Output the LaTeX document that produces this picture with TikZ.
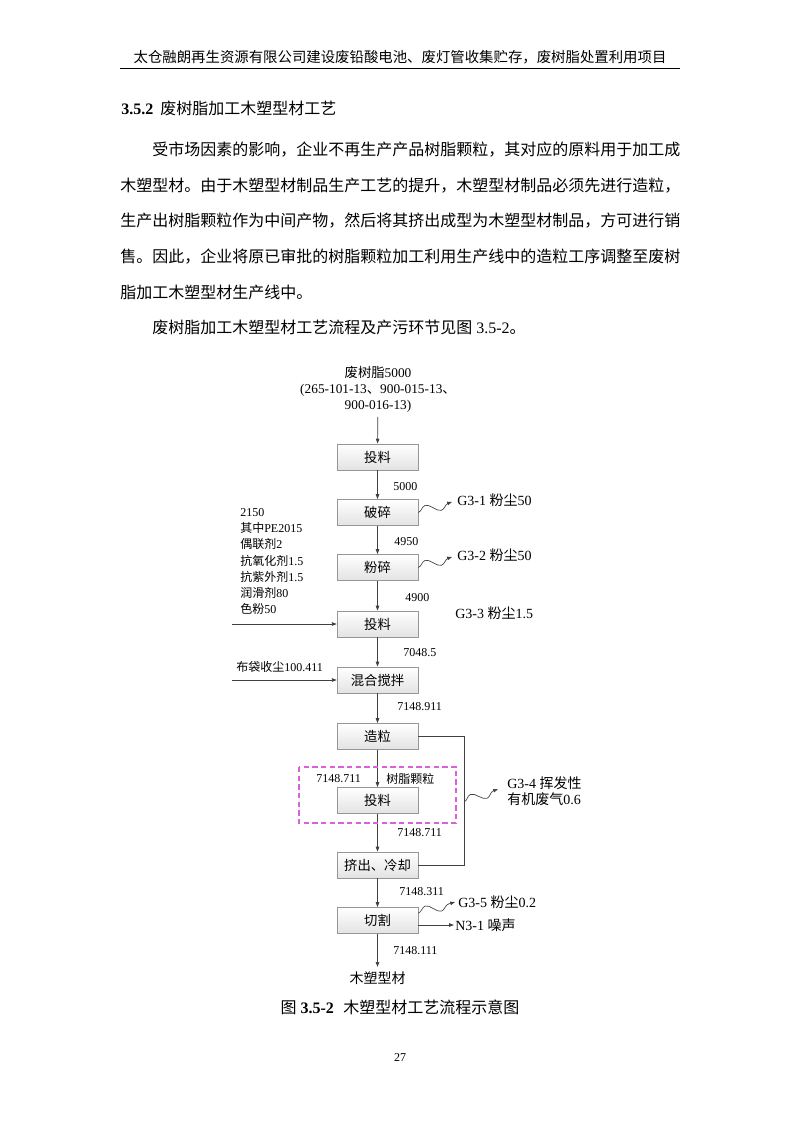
\documentclass[tikz,border=0pt]{standalone}
\usepackage{fontspec}
\setmainfont{Liberation Serif}
\newfontfamily\cjk{Noto Sans CJK SC}
\newcommand{\zh}[1]{{\cjk #1}}
\usepackage{xcolor}
\definecolor{dashPink}{RGB}{218, 96, 218}
\definecolor{boxGray}{RGB}{150, 150, 150}
\usepackage{tikz}
\usetikzlibrary{arrows.meta, decorations.pathmorphing}

\begin{document}
\begin{tikzpicture}[
    x=0.75pt, y=-0.75pt,
    txt/.style={anchor=west, inner sep=0pt, font=\fontsize{12}{14}\selectfont},
    box/.style={
        rectangle, draw=boxGray, top color=white, bottom color=gray!22,
        minimum width=60.75pt, minimum height=19.8pt, inner sep=0pt,
        font=\fontsize{10}{12}\selectfont\cjk
    },
    num/.style={anchor=west, inner sep=0pt, font=\fontsize{9}{11}\selectfont},
    lbl/.style={anchor=west, inner sep=0pt, font=\fontsize{10.5}{12}\selectfont},
    line/.style={draw=black!75, line width=0.5pt},
    arr/.style={line, -{Triangle[length=3.6pt, width=2.6pt]}},
    wavy/.style={arr, decorate,
        decoration={snake, amplitude=3.6pt, segment length=21pt, post length=2.5pt}}
]
\useasboundingbox (0,0) rectangle (800,1131);
\fill[white] (0,0) rectangle (800,1131);

%% ---- Page header ----
\node[font=\fontsize{10.8}{12}\selectfont\cjk, inner sep=0pt] (head) at (400,57)
    {太仓融朗再生资源有限公司建设废铅酸电池、废灯管收集贮存，废树脂处置利用项目};
\draw[line width=0.6pt] (120,68) -- (680,68);

%% ---- Section text ----
\node[txt] (title) at (121,108) {\textbf{3.5.2}\hspace{0.45em}\zh{废树脂加工木塑型材工艺}};
\node[txt] (p1) at (152,150) {\zh{受市场因素的影响，企业不再生产产品树脂颗粒，其对应的原料用于加工成}};
\node[txt] (p2) at (120,186) {\zh{木塑型材。由于木塑型材制品生产工艺的提升，木塑型材制品必须先进行造粒，}};
\node[txt] (p3) at (120,221) {\zh{生产出树脂颗粒作为中间产物，然后将其挤出成型为木塑型材制品，方可进行销}};
\node[txt] (p4) at (120,257) {\zh{售。因此，企业将原已审批的树脂颗粒加工利用生产线中的造粒工序调整至废树}};
\node[txt] (p5) at (120,292) {\zh{脂加工木塑型材生产线中。}};
\node[txt] (p6) at (152,327) {\zh{废树脂加工木塑型材工艺流程及产污环节见图} 3.5-2\zh{。}};

%% ---- Process boxes ----
\node[align=center, font=\fontsize{10}{12}\selectfont] (inp) at (378,389)
    {\zh{废树脂}5000\\(265-101-13\zh{、}900-015-13\zh{、}\\900-016-13)};
\node[box] (tl1) at (377.5,457)   {投料};
\node[box] (ps)  at (377.5,512.5) {破碎};
\node[box] (fs)  at (377.5,567.5) {粉碎};
\node[box] (tl2) at (377.5,624)   {投料};
\node[box] (hh)  at (377.5,680)   {混合搅拌};
\node[box] (zl)  at (377.5,736.5) {造粒};
\node[box] (tl3) at (377.5,800.5) {投料};
\node[box] (jc)  at (377.5,865)   {挤出、冷却};
\node[box] (qg)  at (377.5,920.5) {切割};
\node[font=\fontsize{10.5}{12}\selectfont\cjk] (prod) at (377.5,978) {木塑型材};

%% ---- Main flow ----
\draw[arr] (inp) -- (tl1);
\draw[arr] (tl1) -- (ps);
\draw[arr] (ps)  -- (fs);
\draw[arr] (fs)  -- (tl2);
\draw[arr] (tl2) -- (hh);
\draw[arr] (hh)  -- (zl);
\draw[arr] (zl)  -- (tl3);
\draw[arr] (tl3) -- (jc);
\draw[arr] (jc)  -- (qg);
\draw[arr] (qg)  -- (prod);

%% ---- Flow quantities ----
\node[num] (q1) at (393,487) {5000};
\node[num] (q2) at (394,542) {4950};
\node[num] (q3) at (405,598) {4900};
\node[num] (q4) at (403,653) {7048.5};
\node[num] (q5) at (397,707) {7148.911};
\node[num] (q6) at (316,779) {7148.711};
\node[num] (q6b) at (386,779) {\zh{树脂颗粒}};
\node[num] (q7) at (397,833) {7148.711};
\node[num] (q8) at (399,892) {7148.311};
\node[num] (q9) at (393,951) {7148.111};

%% ---- Side inputs ----
\node[num, align=left, font=\fontsize{9}{12.15}\selectfont] (adds) at (240,561.5)
    {2150\\\zh{其中}PE2015\\\zh{偶联剂}2\\\zh{抗氧化剂}1.5\\\zh{抗紫外剂}1.5\\\zh{润滑剂}80\\\zh{色粉}50};
\node[num] (dust) at (236,667) {\zh{布袋收尘}100.411};
\coordinate (ad) at (232,624);
\coordinate (bd) at (232,680);
\draw[arr] (ad) -- (tl2);
\draw[arr] (bd) -- (hh);

%% ---- Emissions ----
\node[lbl] (g31) at (457,500) {G3-1 \zh{粉尘}50};
\node[lbl] (g32) at (457,555) {G3-2 \zh{粉尘}50};
\node[lbl] (g33) at (455,613) {G3-3 \zh{粉尘}1.5};
\node[lbl, align=left] (g34) at (507,791) {G3-4 \zh{挥发性}\\\zh{有机废气}0.6};
\node[lbl] (g35) at (458,902) {G3-5 \zh{粉尘}0.2};
\node[lbl] (n31) at (455,925) {N3-1 \zh{噪声}};
\coordinate (t31) at (452,502);
\coordinate (t32) at (452,557);
\coordinate (t34) at (498,789);
\coordinate (t35) at (455,902);
\draw[wavy] (ps.east) -- (t31);
\draw[wavy] (fs.east) -- (t32);
\draw[wavy] ([yshift=5.5pt]qg.east) -- (t35);
\draw[arr] (qg.east |- n31.west) -- ([xshift=-0.8pt]n31.west);

%% ---- Pelletising loop ----
\draw[line] (zl.east) -- ++(46,0) coordinate (lpt) |- (jc.east);
\coordinate (g34s) at (464,802);
\draw[wavy] (g34s) -- (t34);
\draw[dashPink, line width=0.8pt, dash pattern=on 4pt off 2.5pt]
    (299,767) rectangle (456,823);

%% ---- Caption and page number ----
\node[font=\fontsize{12}{14}\selectfont] (cap) at (400,1007)
    {\zh{图} \textbf{3.5-2}\hspace{0.6em}\zh{木塑型材工艺流程示意图}};
\node[font=\fontsize{9}{11}\selectfont] (pno) at (400,1058) {27};

\end{tikzpicture}
\end{document}
